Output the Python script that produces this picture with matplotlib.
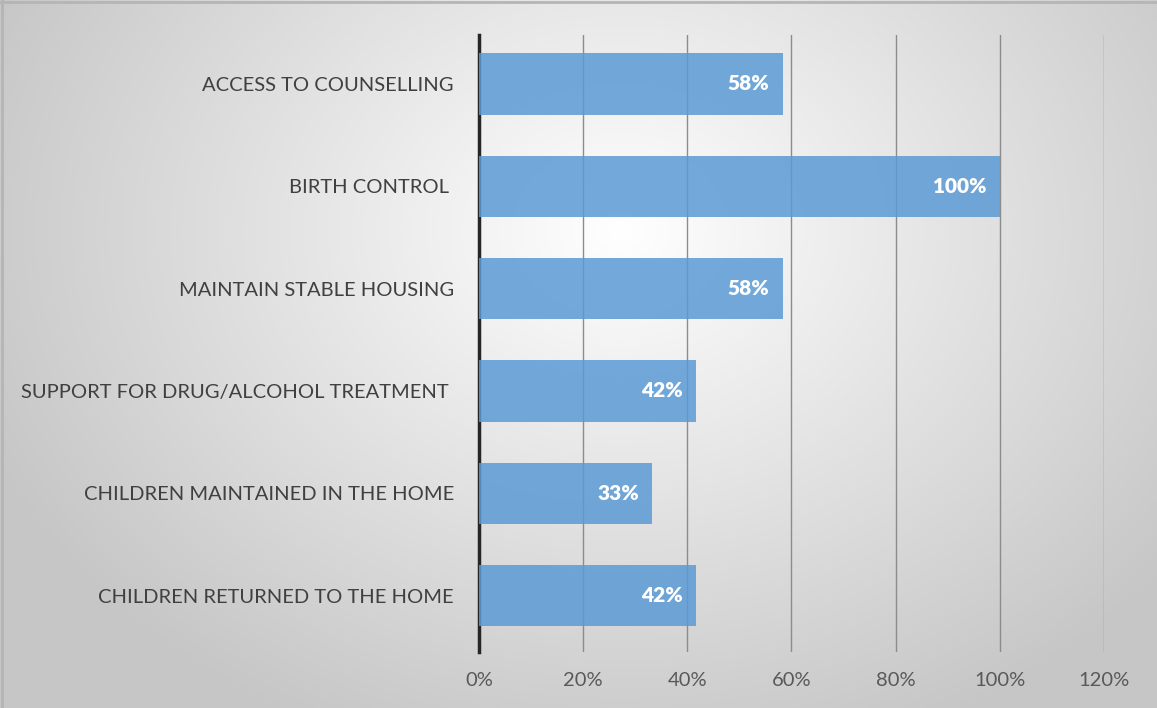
import numpy as np
import matplotlib.pyplot as plt
from matplotlib.ticker import FuncFormatter

# data
categories = ["ACCESS TO COUNSELLING", "BIRTH CONTROL ", "MAINTAIN STABLE HOUSING",
              "SUPPORT FOR DRUG/ALCOHOL TREATMENT ", "CHILDREN MAINTAINED IN THE HOME",
              "CHILDREN RETURNED TO THE HOME"]
values = [58.3, 100.0, 58.3, 41.7, 33.3, 41.7]
value_labels = ["58%", "100%", "58%", "42%", "33%", "42%"]
x_ticks = [0, 20, 40, 60, 80, 100, 120]

plt.rcParams['font.family'] = ['Lato', 'DejaVu Sans']

fig = plt.figure(figsize=(11.57, 7.08), dpi=100)

# radial grey background
bg = fig.add_axes([0, 0, 1, 1], zorder=-10)
yy, xx = np.mgrid[0:708, 0:1157]
d = np.sqrt(((xx - 620) / 900.0) ** 2 + ((yy - 230) / 720.0) ** 2)
shade = np.clip(1.0 - 0.29 * d, 0.78, 1.0)
bg.imshow(np.dstack([shade] * 3), aspect='auto', extent=[0, 1157, 708, 0])
bg.plot([0, 1157], [2, 2], color='#b5b5b5', lw=2)
bg.plot([2, 2], [0, 708], color='#b5b5b5', lw=2)
bg.set_xlim(0, 1157)
bg.set_ylim(708, 0)
bg.axis('off')

ax = fig.add_axes([0.414, 0.079, 0.540, 0.872])
ax.patch.set_alpha(0)
y = np.arange(len(categories))
ax.barh(y, values, height=0.6, color='#5b9bd5', alpha=0.85, zorder=3)
for yi, v, lab in zip(y, values, value_labels):
    ax.text(v - 2.6, yi, lab, ha='right', va='center', color='white',
            fontsize=15, fontweight='heavy', zorder=4)

ax.set_xlim(0, 120)
ax.set_ylim(5.55, -0.48)
ax.set_xticks(x_ticks)
ax.xaxis.set_major_formatter(FuncFormatter(lambda v, p: f"{v:.0f}%"))
ax.set_yticks(y)
ax.set_yticklabels(categories)
ax.grid(axis='x', color='#8c8c8c', lw=1.0, zorder=0)
for s in ['top', 'right', 'bottom']:
    ax.spines[s].set_visible(False)
ax.spines['left'].set_color('#262626')
ax.spines['left'].set_linewidth(2.5)
ax.tick_params(axis='both', length=0, labelsize=14.5)
ax.tick_params(axis='y', pad=18, labelcolor='#404040')
ax.tick_params(axis='x', pad=14, labelcolor='#595959')

fig.savefig('out.png', dpi=100)
